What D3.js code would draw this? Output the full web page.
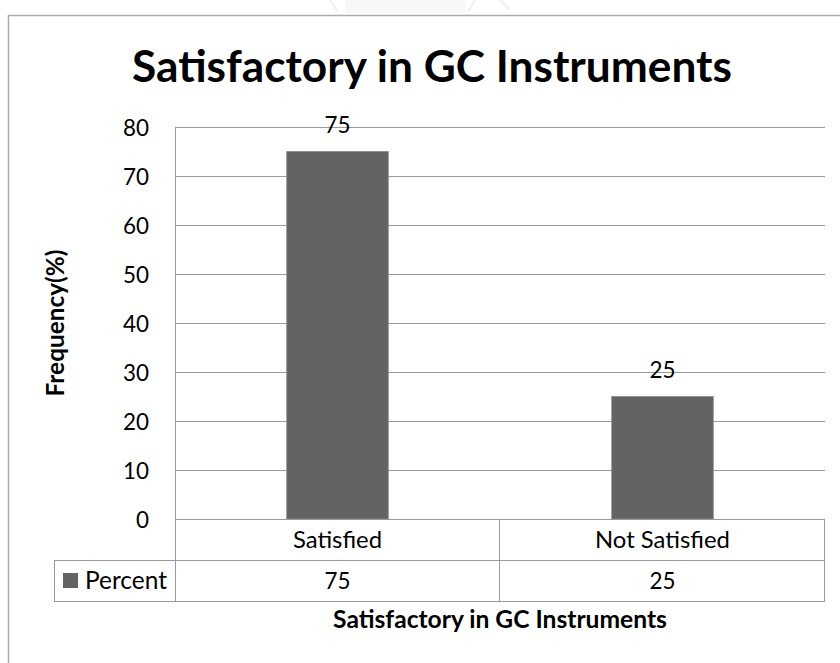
<!DOCTYPE html>
<html>
<head>
<meta charset="utf-8">
<script src="https://cdn.jsdelivr.net/npm/d3@7"></script>
<style>
html,body{margin:0;padding:0;background:#fff;}
svg{display:block;}
text{font-family:Lato,"Open Sans",sans-serif;fill:#000;}
</style>
</head>
<body>
<svg id="c" width="840" height="663"></svg>
<script>
const categories = ["Satisfied", "Not Satisfied"];
const seriesName = "Percent";
const values = [75, 25];
const yTicks = [0, 10, 20, 30, 40, 50, 60, 70, 80];
const titleText = "Satisfactory in GC Instruments";
const xTitleText = "Satisfactory in GC Instruments";
const yTitleText = "Frequency(%)";

const svg = d3.select("#c");
const plot = {left: 175, right: 825, top: 127, bottom: 519};
const rowH = 41;
const gridColor = "#9a9a9a";
const barColor = "#636363";

function fit(sel, target) {
  const n = sel.node();
  const fs = parseFloat(sel.attr("font-size"));
  const w = n.getComputedTextLength();
  sel.attr("font-size", (fs * target / w).toFixed(2));
  return sel;
}

// determine number font size from a probe ("80" is ~26px wide)
const probe = svg.append("text").attr("font-size", 20).text("80");
fit(probe, 26);
const numFs = probe.attr("font-size");
probe.remove();

// faint watermark at top
const wm = svg.append("g").attr("opacity", 0.3);
wm.append("rect").attr("x", 345).attr("y", 0).attr("width", 120).attr("height", 13).attr("fill", "#e6e6e6");
wm.append("path").attr("d", "M330,0 L338,12 M475,0 L468,12 M500,0 L510,10").attr("stroke", "#cfcfcf").attr("stroke-width", 2).attr("fill", "none");

// chart frame
svg.append("path")
  .attr("d", "M8.5,663 L8.5,15.5 L840,15.5")
  .attr("fill", "none").attr("stroke", "#ababab").attr("stroke-width", 1.5);

const x = d3.scaleBand().domain(categories).range([plot.left, plot.right]).paddingInner(0).paddingOuter(0);
const y = d3.scaleLinear().domain([0, 80]).range([plot.bottom, plot.top]);

// gridlines + tick labels via axis
const yAxis = d3.axisLeft(y).tickValues(yTicks).tickSize(-(plot.right - plot.left)).tickPadding(26).tickFormat(d3.format("d"));
const gy = svg.append("g").attr("transform", `translate(${plot.left},0)`).call(yAxis);
gy.select(".domain").remove();
gy.selectAll(".tick line").attr("stroke", gridColor).attr("stroke-width", 1).attr("shape-rendering", "crispEdges");
gy.selectAll(".tick text").attr("font-size", numFs).attr("font-family", "Lato").attr("fill", "#000").attr("dy", "0.36em");

// plot left line extending down through table
svg.append("line").attr("x1", plot.left + 0.5).attr("x2", plot.left + 0.5)
  .attr("y1", plot.top).attr("y2", plot.bottom + 2 * rowH)
  .attr("stroke", gridColor).attr("shape-rendering", "crispEdges");

// bars
const bw = x.bandwidth() / 3.2;
svg.selectAll("rect.bar").data(values).enter().append("rect")
  .attr("class", "bar")
  .attr("x", (d, i) => x(categories[i]) + x.bandwidth() / 2 - bw / 2)
  .attr("y", d => y(d))
  .attr("width", bw)
  .attr("height", d => y(0) - y(d))
  .attr("fill", barColor)
  .attr("stroke", "#8a8a8a").attr("stroke-width", 0.8);

// data labels
svg.selectAll("text.dl").data(values).enter().append("text")
  .attr("class", "dl")
  .attr("x", (d, i) => x(categories[i]) + x.bandwidth() / 2)
  .attr("y", d => y(d) - 19)
  .attr("text-anchor", "middle").attr("font-size", numFs)
  .text(d => d);

// data table
const tbl = svg.append("g").attr("stroke", gridColor).attr("shape-rendering", "crispEdges");
const legLeft = 54;
tbl.append("line").attr("x1", plot.left).attr("x2", plot.right).attr("y1", plot.bottom + 0.5).attr("y2", plot.bottom + 0.5);
tbl.append("line").attr("x1", legLeft).attr("x2", plot.right).attr("y1", plot.bottom + rowH + 0.5).attr("y2", plot.bottom + rowH + 0.5);
tbl.append("line").attr("x1", legLeft).attr("x2", plot.right).attr("y1", plot.bottom + 2 * rowH + 0.5).attr("y2", plot.bottom + 2 * rowH + 0.5);
tbl.append("line").attr("x1", legLeft + 0.5).attr("x2", legLeft + 0.5).attr("y1", plot.bottom + rowH).attr("y2", plot.bottom + 2 * rowH);
categories.forEach(c => {
  const xr = x(c) + x.bandwidth();
  tbl.append("line").attr("x1", xr - 0.5).attr("x2", xr - 0.5).attr("y1", plot.bottom).attr("y2", plot.bottom + 2 * rowH);
});

// category labels
const catT = svg.selectAll("text.cat").data(categories).enter().append("text")
  .attr("class", "cat")
  .attr("x", d => x(d) + x.bandwidth() / 2)
  .attr("y", plot.bottom + rowH / 2)
  .attr("dy", "0.36em")
  .attr("text-anchor", "middle").attr("font-size", 20)
  .text(d => d);
fit(d3.select(catT.nodes()[1]), 135);
const catFs = d3.select(catT.nodes()[1]).attr("font-size");
catT.attr("font-size", catFs);

// value row
svg.selectAll("text.val").data(values).enter().append("text")
  .attr("class", "val")
  .attr("x", (d, i) => x(categories[i]) + x.bandwidth() / 2)
  .attr("y", plot.bottom + rowH * 1.5)
  .attr("dy", "0.36em")
  .attr("text-anchor", "middle").attr("font-size", numFs)
  .text(d => d);

// legend key
svg.append("rect").attr("x", 63).attr("y", plot.bottom + rowH * 1.5 - 7.5).attr("width", 15).attr("height", 15).attr("fill", barColor);
const lt = svg.append("text").attr("x", 85).attr("y", plot.bottom + rowH * 1.5).attr("dy", "0.36em")
  .attr("font-size", 20).text(seriesName);
fit(lt, 82);

// titles
const t = svg.append("text").attr("x", 432).attr("y", 82).attr("text-anchor", "middle")
  .attr("font-weight", "bold").attr("font-size", 40).text(titleText);
fit(t, 600);

const xt = svg.append("text").attr("x", 500).attr("y", 628).attr("text-anchor", "middle")
  .attr("font-weight", "bold").attr("font-size", 18).text(xTitleText);
fit(xt, 334);

const yt = svg.append("text").attr("transform", "translate(64,323) rotate(-90)")
  .attr("text-anchor", "middle")
  .attr("font-weight", "bold").attr("font-size", 18).text(yTitleText);
fit(yt, 147);
</script>
</body>
</html>
